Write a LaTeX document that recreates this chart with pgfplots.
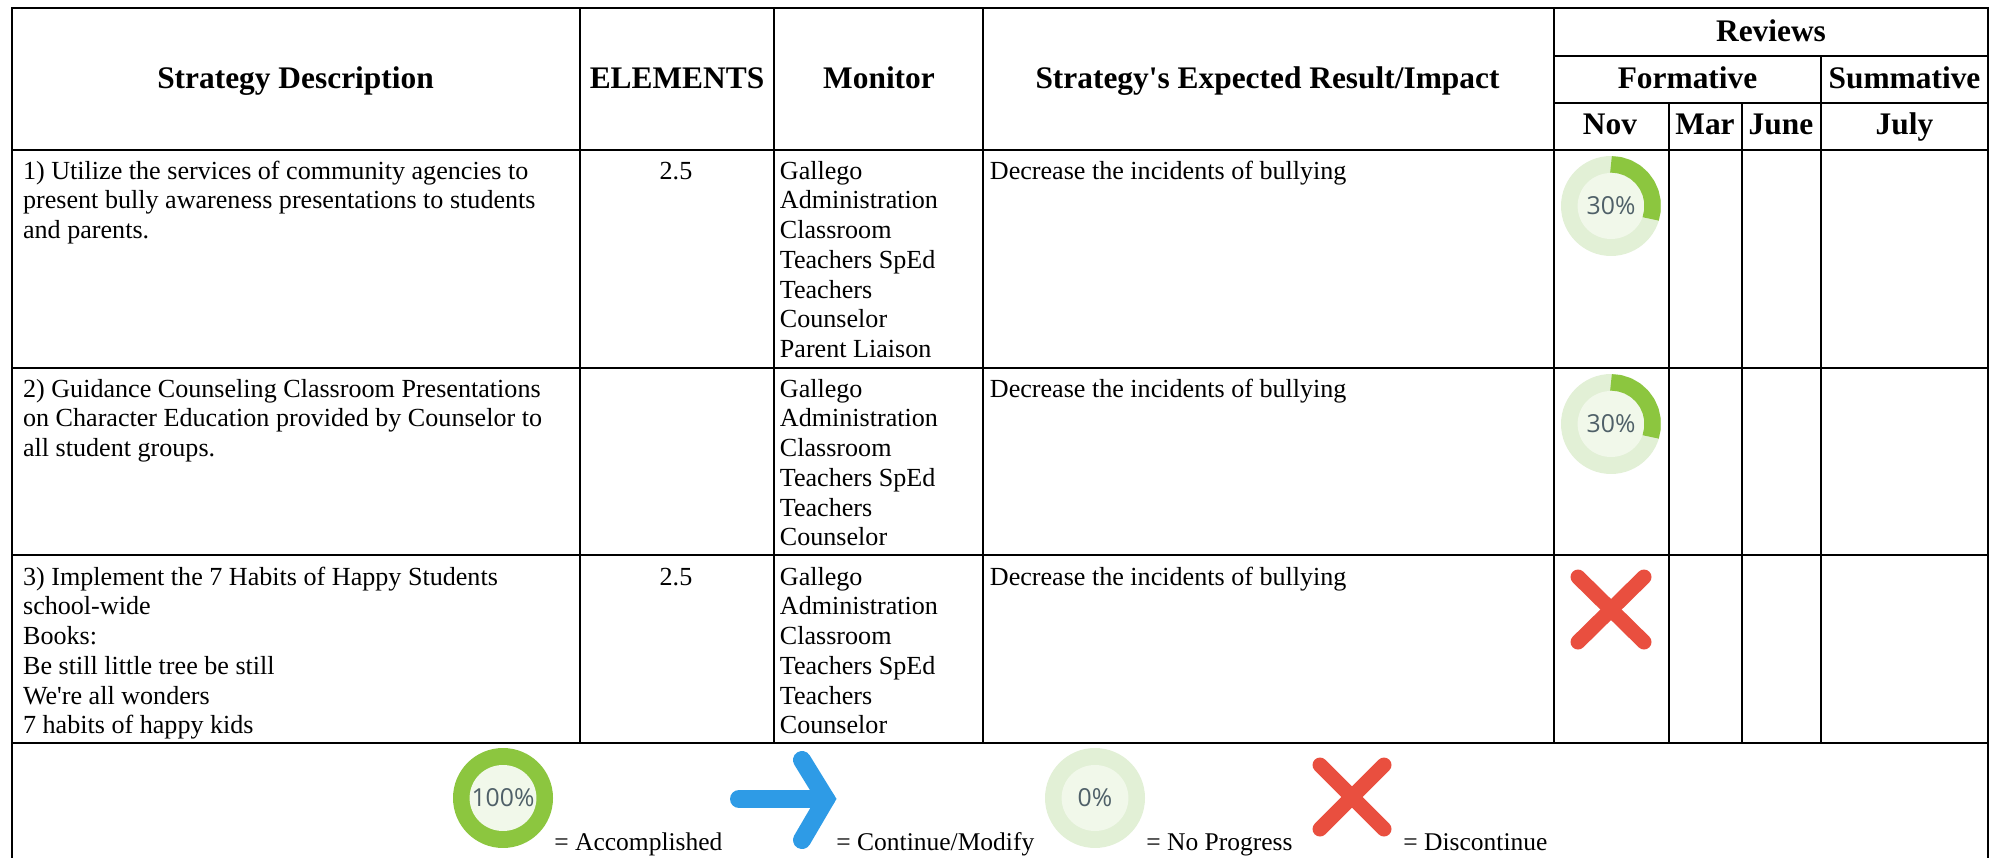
\documentclass[border=0pt]{standalone}
\usepackage{pgfplots}
\usepackage{fontspec}
\pgfplotsset{compat=1.18}
\setmainfont{Liberation Serif}
\newfontfamily\iconfont{Open Sans}
\definecolor{ringlight}{HTML}{E2F0D6}
\definecolor{ringin}{HTML}{F1F8EA}
\definecolor{ringgreen}{HTML}{8CC63F}
\definecolor{arrowblue}{HTML}{2E9BE6}
\definecolor{crossred}{HTML}{E94F3F}
\definecolor{icontext}{HTML}{4F6068}
\newcommand{\body}[3]{\node[anchor=base west,inner sep=0pt,font=\fontsize{13.05}{15}\selectfont] at (axis cs:#1,#2) {#3};}
\newcommand{\lgd}[3]{\node[anchor=base west,inner sep=0pt,font=\fontsize{12.75}{15}\selectfont] at (axis cs:#1,#2) {#3};}
\newcommand{\hd}[3]{\node[anchor=base,inner sep=0pt,font=\fontsize{15.7}{18}\selectfont\bfseries] at (axis cs:#1,#2) {#3};}
\newcommand{\pct}[3]{\node[anchor=center,inner sep=0pt,text=icontext,font=\fontsize{12.4}{14}\selectfont\iconfont] at (axis cs:#1,#2) {#3};}
\pgfplotsset{
  rule/.style={black,line width=1pt,mark=none,forget plot},
  donut/.style={#1,line width=50pt,line cap=round,mark=none,forget plot},
  donutin/.style={ringin,line width=33.4pt,line cap=round,mark=none,forget plot},
  ringarc/.style={ringgreen,line width=8.25pt,mark=none,forget plot,line join=round},
  cross/.style={crossred,line width=7.5pt,line cap=round,mark=none,forget plot},
  arrow/.style={arrowblue,line width=9pt,line cap=round,mark=none,forget plot},
}
\begin{document}
\begin{tikzpicture}
\begin{axis}[
  scale only axis,width=998.5pt,height=429pt,
  xmin=0,xmax=1997,ymin=0,ymax=858,y dir=reverse,
  hide axis,clip=false]
\path (axis cs:0,0) rectangle (axis cs:1997,858);
% table rules
\addplot[rule] coordinates {(11.5,7.5) (1988,7.5)};
\addplot[rule] coordinates {(1554,55.5) (1988,55.5)};
\addplot[rule] coordinates {(1554,103) (1988,103)};
\addplot[rule] coordinates {(11.5,150) (1988,150)};
\addplot[rule] coordinates {(11.5,367.5) (1988,367.5)};
\addplot[rule] coordinates {(11.5,555) (1988,555)};
\addplot[rule] coordinates {(11.5,742.5) (1988,742.5)};
\addplot[rule] coordinates {(11.5,7) (11.5,858)};
\addplot[rule] coordinates {(1988,7) (1988,858)};
\addplot[rule] coordinates {(580,7) (580,742)};
\addplot[rule] coordinates {(774,7) (774,742)};
\addplot[rule] coordinates {(983,7) (983,742)};
\addplot[rule] coordinates {(1554,7) (1554,742)};
\addplot[rule] coordinates {(1668.5,103) (1668.5,742)};
\addplot[rule] coordinates {(1741.5,103) (1741.5,742)};
\addplot[rule] coordinates {(1821,55.5) (1821,742)};
% headers
\hd{295.5}{88}{Strategy Description}
\hd{677}{88}{ELEMENTS}
\hd{879}{88}{Monitor}
\hd{1267.5}{88}{Strategy\textquotesingle s Expected Result/Impact}
\hd{1771}{41}{Reviews}
\hd{1687.5}{88}{Formative}
\hd{1904.5}{88}{Summative}
\hd{1610}{134}{Nov}
\hd{1705}{134}{Mar}
\hd{1781}{134}{June}
\hd{1904.5}{134}{July}
% row 1
\body{22.7}{179}{1) Utilize the services of community agencies to}
\body{22.7}{208.7}{present bully awareness presentations to students}
\body{22.7}{238.5}{and parents.}
\node[anchor=base,inner sep=0pt,font=\fontsize{13.05}{15}\selectfont] at (axis cs:676,179) {2.5};
\body{779.5}{179}{Gallego}
\body{779.5}{208.7}{Administration}
\body{779.5}{238.5}{Classroom}
\body{779.5}{268.2}{Teachers SpEd}
\body{779.5}{298}{Teachers}
\body{779.5}{327.7}{Counselor}
\body{779.5}{357.5}{Parent Liaison}
\body{989.5}{179}{Decrease the incidents of bullying}
% row 2
\body{22.7}{397}{2) Guidance Counseling Classroom Presentations}
\body{22.7}{426.7}{on Character Education provided by Counselor to}
\body{22.7}{456.5}{all student groups.}
\body{779.5}{397}{Gallego}
\body{779.5}{426.7}{Administration}
\body{779.5}{456.5}{Classroom}
\body{779.5}{486.2}{Teachers SpEd}
\body{779.5}{516}{Teachers}
\body{779.5}{545.7}{Counselor}
\body{989.5}{397}{Decrease the incidents of bullying}
% row 3
\body{22.7}{585}{3) Implement the 7 Habits of Happy Students}
\body{22.7}{614.7}{school-wide}
\body{22.7}{644.5}{Books:}
\body{22.7}{674.2}{Be still little tree be still}
\body{22.7}{704}{We\textquotesingle re all wonders}
\body{22.7}{733.7}{7 habits of happy kids}
\node[anchor=base,inner sep=0pt,font=\fontsize{13.05}{15}\selectfont] at (axis cs:676,585) {2.5};
\body{779.5}{585}{Gallego}
\body{779.5}{614.7}{Administration}
\body{779.5}{644.5}{Classroom}
\body{779.5}{674.2}{Teachers SpEd}
\body{779.5}{704}{Teachers}
\body{779.5}{733.7}{Counselor}
\body{989.5}{585}{Decrease the incidents of bullying}
% review icons: 30% rings
\addplot[donut=ringlight] coordinates {(1611,206) (1611.01,206)};
\addplot[donutin] coordinates {(1611,206) (1611.01,206)};
\addplot[ringarc] coordinates {(1611,164.3) (1619.67,165.21) (1627.96,167.9) (1635.51,172.26) (1641.99,178.1) (1647.11,185.15) (1650.66,193.11) (1652.47,201.64) (1652.47,210.36) (1650.66,218.89)};
\pct{1611}{206}{30\%}
\addplot[donut=ringlight] coordinates {(1611,424) (1611.01,424)};
\addplot[donutin] coordinates {(1611,424) (1611.01,424)};
\addplot[ringarc] coordinates {(1611,382.3) (1619.67,383.21) (1627.96,385.9) (1635.51,390.26) (1641.99,396.1) (1647.11,403.15) (1650.66,411.11) (1652.47,419.64) (1652.47,428.36) (1650.66,436.89)};
\pct{1611}{424}{30\%}
% row 3 cross
\addplot[cross] coordinates {(1578,577) (1644,642)};
\addplot[cross] coordinates {(1644,577) (1578,642)};
% legend
\addplot[donut=ringgreen] coordinates {(503,798) (503.01,798)};
\addplot[donutin] coordinates {(503,798) (503.01,798)};
\pct{503}{798}{100\%}
\lgd{554}{850}{= Accomplished}
\addplot[arrow] coordinates {(739,799) (826,799)};
\addplot[arrow,line join=miter] coordinates {(802,760) (826,799) (802,840)};
\lgd{836}{850}{= Continue/Modify}
\addplot[donut=ringlight] coordinates {(1095,798) (1095.01,798)};
\addplot[donutin] coordinates {(1095,798) (1095.01,798)};
\pct{1095}{798}{0\%}
\lgd{1146}{850}{= No Progress}
\addplot[cross] coordinates {(1320,765) (1384,829)};
\addplot[cross] coordinates {(1384,765) (1320,829)};
\lgd{1403}{850}{= Discontinue}
\end{axis}
\end{tikzpicture}
\end{document}
